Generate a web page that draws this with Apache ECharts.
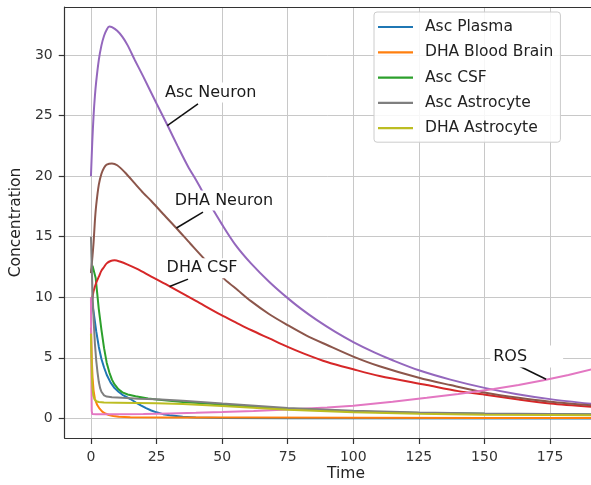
<!DOCTYPE html>
<html>
<head>
<meta charset="utf-8">
<script src="https://cdn.jsdelivr.net/npm/echarts@6/dist/echarts.min.js"></script>
<style>html,body{margin:0;padding:0;background:#fff;}#chart{width:591px;height:485px;}</style>
</head>
<body>
<div id="chart"></div>
<script>
// ---- data (time, concentration) ----
const xTicks = [0, 25, 50, 75, 100, 125, 150, 175];
const yTicks = [0, 5, 10, 15, 20, 25, 30];

const ascPlasma = [[0,10],[0.5,9.5],[1,8.8],[2,7.2],[3,5.9],[4,4.9],[5,4.2],[6,3.6],[7.5,2.95],[9,2.5],[10.5,2.2],[12,1.95],[13.5,1.78],[15,1.6],[17,1.33],[19,1.07],[21,0.84],[23,0.65],[25,0.5],[27.5,0.35],[30,0.25],[35,0.13],[40,0.07],[50,0.03],[75,0.01],[191,0]];
const dhaBloodBrain = [[0,7.5],[0.3,5],[0.6,3.4],[1,2.3],[1.5,1.6],[2.4,1.1],[3.3,0.8],[4.3,0.56],[5.5,0.4],[6.8,0.28],[8.5,0.2],[10.6,0.14],[15,0.1],[30,0.08],[60,0.07],[100,0.05],[150,0.04],[191,0.03]];
const ascCSF = [[0,12],[0.6,12.6],[1.2,12.5],[1.8,11.6],[2.4,10.3],[3,9.0],[4,7.3],[5,5.8],[6,4.6],[7,3.8],[8,3.2],[9,2.8],[10.5,2.4],[12,2.15],[14,1.97],[17,1.83],[21.8,1.65],[25,1.55],[30,1.45],[35,1.36],[50,1.15],[75,0.8],[100,0.57],[125,0.45],[150,0.38],[175,0.34],[191,0.32]];
const dhaCSF = [[0,9.5],[0.5,9.9],[1,10.5],[2,11.2],[3,11.7],[4,12.2],[5,12.5],[6,12.8],[7.5,13.0],[9,13.05],[11,12.95],[14,12.7],[18,12.3],[23,11.7],[30,10.9],[40,9.7],[49.6,8.54],[55,7.95],[61,7.3],[68,6.6],[75,5.9],[80,5.45],[90,4.65],[100,4.05],[110,3.5],[128,2.75],[140,2.25],[151,1.93],[163,1.55],[175,1.22],[191,0.95]];
const ascNeuron = [[0,20],[0.5,22.8],[1,25],[1.5,26.6],[2,27.8],[3,29.6],[4,30.8],[5,31.6],[6,32.1],[7,32.35],[8,32.3],[10,32],[12,31.5],[14,30.8],[16.7,29.6],[20,28.2],[25,26.0],[29.4,24.1],[33,22.5],[37,20.8],[40,19.7],[45,17.8],[50,16.0],[55,14.35],[61,12.8],[68,11.27],[75,9.93],[80,9.06],[86,8.13],[93,7.16],[100,6.3],[108,5.45],[115,4.8],[125,3.97],[137,3.2],[150,2.52],[162,2.02],[175,1.59],[191,1.19]];
const dhaNeuron = [[0,12],[0.5,13.2],[1,14.5],[1.5,16.3],[2,17.6],[3,19.3],[4,20.2],[5,20.7],[6,20.95],[8,21.05],[10,20.9],[13,20.3],[16.7,19.4],[20,18.6],[23,17.95],[27,17.0],[32.6,15.7],[38,14.4],[43.3,13.15],[50.9,11.5],[56,10.58],[61,9.68],[68,8.6],[75,7.7],[82,6.86],[90,6.06],[100,5.1],[110,4.3],[125,3.35],[137,2.75],[151,2.1],[163,1.7],[175,1.38],[191,1.08]];
const ros = [[0,10],[0.1,6],[0.2,2.5],[0.3,0.6],[0.5,0.36],[2,0.34],[10,0.34],[20,0.36],[30,0.41],[40,0.46],[50,0.52],[62,0.61],[75,0.74],[90,0.9],[100,1.05],[115,1.38],[128,1.7],[140,2.02],[153.5,2.43],[163,2.76],[172.5,3.15],[182,3.58],[191,4.05]];
const ascAstrocyte = [[0,15],[0.3,12.5],[0.6,10.4],[1,8.2],[1.5,6.2],[2,4.8],[2.5,3.8],[3,3.0],[3.5,2.5],[4,2.2],[5,1.9],[6,1.8],[8,1.75],[12,1.7],[18,1.63],[25,1.57],[35,1.46],[50,1.22],[75,0.86],[100,0.62],[125,0.48],[150,0.41],[175,0.36],[191,0.34]];
const dhaAstrocyte = [[0,7],[0.2,5],[0.4,3.3],[0.6,2.5],[0.9,1.9],[1.3,1.6],[2,1.42],[3,1.36],[5,1.32],[10,1.3],[25,1.24],[35,1.18],[50,1.03],[75,0.72],[100,0.5],[125,0.38],[150,0.31],[175,0.27],[191,0.25]];

const seriesNames = ['Asc Plasma','DHA Blood Brain','Asc CSF','DHA CSF','Asc Neuron','DHA Neuron','ROS','Asc Astrocyte','DHA Astrocyte'];
const seriesData = [ascPlasma, dhaBloodBrain, ascCSF, dhaCSF, ascNeuron, dhaNeuron, ros, ascAstrocyte, dhaAstrocyte];
const seriesColors = ['#1f77b4','#ff7f0e','#2ca02c','#d62728','#9467bd','#8c564b','#e377c2','#7f7f7f','#bcbd22'];
const seriesSmooth = [false, false, false, 0.3, 0.3, 0.3, false, false, false];
const legendNames = ['Asc Plasma','DHA Blood Brain','Asc CSF','Asc Astrocyte','DHA Astrocyte'];

// annotations: label, pointer start (on curve), pointer end, text anchor (left/middle)
const annoLabels = ['Asc Neuron','DHA Neuron','DHA CSF','ROS'];
const annoFrom = [[29.1,24.18],[32.6,15.72],[30.0,10.89],[173.5,3.23]];
const annoTo = [[40.8,25.97],[42.7,17.04],[37.0,11.5],[162.4,4.41]];
const annoText = [[27.1,26.9],[30.8,18.0],[27.7,12.4],[152.2,5.1]];

const FONT = 'DejaVu Sans';
const series = seriesNames.map((n, i) => ({
  name: n, type: 'line', data: seriesData[i], showSymbol: false, symbol: 'none',
  smooth: seriesSmooth[i],
  color: seriesColors[i], lineStyle: {width: 2, color: seriesColors[i]},
  itemStyle: {color: seriesColors[i]}, z: 2 + i * 0.01, silent: true
}));
annoLabels.forEach((n, i) => {
  series.push({
    type: 'line', data: [annoFrom[i], annoTo[i]], symbol: 'none', silent: true,
    lineStyle: {width: 1.5, color: '#111'}, z: 5
  });
});
series.push({
  type: 'scatter', symbolSize: 0, silent: true, z: 10,
  data: annoLabels.map((n, i) => ({
    name: n, value: annoText[i],
    label: n === 'ROS' ? {padding: [3, 36, 3, 3]} : {}
  })),
  label: {
    show: true, position: 'right', distance: 0, formatter: '{b}', opacity: 1,
    backgroundColor: '#fff', padding: [2, 3], fontSize: 16, color: '#1a1a1a', fontFamily: FONT
  },
  emphasis: {disabled: true}
});

const axisCommon = {
  axisLine: {show: true, onZero: false, lineStyle: {color: '#333', width: 1.2}},
  axisTick: {show: true, length: 6, lineStyle: {color: '#333', width: 1.2}},
  splitLine: {show: true, lineStyle: {color: '#c8c8c8', width: 1}}
};

const option = {
  animation: false,
  backgroundColor: '#fff',
  grid: {left: 63, top: 7, right: 0, bottom: 47, containLabel: false},
  xAxis: [{
    type: 'value', min: -10, max: 190.6,
    axisLine: axisCommon.axisLine,
    axisTick: Object.assign({customValues: xTicks}, axisCommon.axisTick),
    axisLabel: {customValues: xTicks, fontSize: 14, color: '#333', margin: 12, fontFamily: FONT},
    splitLine: axisCommon.splitLine
  }, {
    type: 'value', position: 'top', min: -10, max: 190.6,
    axisLine: {show: true, onZero: false, lineStyle: {color: '#333', width: 1.2}},
    axisTick: {show: false}, axisLabel: {show: false}, splitLine: {show: false}
  }],
  yAxis: {
    type: 'value', min: -1.62, max: 33.97,
    name: 'Concentration', nameLocation: 'middle', nameGap: 34,
    nameTextStyle: {fontSize: 15.5, color: '#222', fontFamily: FONT},
    axisLine: axisCommon.axisLine,
    axisTick: Object.assign({customValues: yTicks}, axisCommon.axisTick),
    axisLabel: {customValues: yTicks, fontSize: 14, color: '#333', margin: 12, fontFamily: FONT},
    splitLine: axisCommon.splitLine
  },
  legend: {
    data: legendNames, orient: 'vertical', left: 374, top: 12,
    padding: [7, 7, 6, 4], itemGap: 9.3, itemWidth: 35, itemHeight: 2.2, icon: 'rect',
    backgroundColor: 'rgba(255,255,255,0.85)', borderColor: '#cccccc', borderWidth: 1, borderRadius: 3,
    textStyle: {fontSize: 15.5, color: '#222', fontFamily: FONT, lineHeight: 15.5, padding: [0, 0, 0, 7]},
    selectedMode: false
  },
  graphic: [{
    type: 'text', x: 346, y: 474,
    style: {text: 'Time', fill: '#222', font: '15.5px "DejaVu Sans"', textAlign: 'center', textVerticalAlign: 'middle'}
  }],
  series: series
};

const chart = echarts.init(document.getElementById('chart'), null, {renderer: 'canvas'});
chart.setOption(option);
</script>
</body>
</html>
